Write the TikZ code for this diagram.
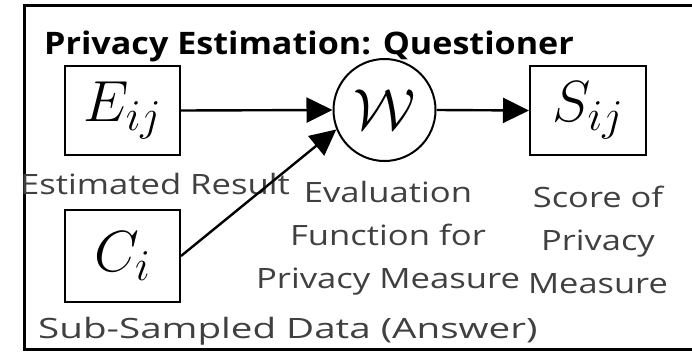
\RequirePackage{fix-cm}
\documentclass[tikz,border=0pt]{standalone}
\usepackage{fontspec}
\setmainfont{Open Sans}
\usetikzlibrary{arrows.meta}
\definecolor{lbl}{RGB}{64,64,64}
\DeclareMathSizes{58}{58}{44}{34}
\newcommand{\stretchx}[2]{\scalebox{#1}[1]{#2}}
\begin{document}
\begin{tikzpicture}[x=1pt,y=-1pt,
  box/.style={draw,line width=2pt,inner sep=0pt,minimum width=115pt},
  mathtxt/.style={font=\fontsize{58}{60}\selectfont},
  lab/.style={text=lbl,font=\fontsize{28}{43}\selectfont,inner sep=0pt},
  conn/.style={line width=2.4pt,-{Triangle[length=26pt,width=25pt]}}]
\clip (0,0) rectangle (692,353);
\draw[line width=3pt] (24,6) rectangle (760,349);
\node[anchor=base west,inner sep=0pt,font=\fontsize{31}{36}\selectfont\bfseries] (title) at (44,55) {\stretchx{1.1}{Privacy Estimation: Questioner}};
\node[box,minimum height=89pt,mathtxt] (E) at (122.5,110.5) {$E_{ij}$};
\node[box,minimum height=92pt,mathtxt] (C) at (122.5,256) {$C_i$};
\node[draw,circle,line width=2pt,minimum size=102pt,inner sep=0pt,mathtxt] (W) at (384.5,110) {$\mathcal{W}$};
\node[box,minimum width=116pt,minimum height=89pt,mathtxt] (S) at (588,110.5) {$S_{ij}$};
\node[lab,anchor=base] (le) at (155,194) {\stretchx{1.237}{Estimated Result}};
\node[lab,anchor=base] (lw) at (388,288) {\stretchx{1.237}{\begin{tabular}[b]{@{}c@{}}Evaluation\\Function for\\Privacy Measure\end{tabular}}};
\node[lab,anchor=base] (ls) at (598,293) {\stretchx{1.23}{\begin{tabular}[b]{@{}c@{}}Score of\\Privacy\\Measure\end{tabular}}};
\node[lab,anchor=base west] (lc) at (38,338) {\stretchx{1.377}{Sub-Sampled Data (Answer)}};
\draw[conn] (E.east) -- (W.west);
\draw[conn] (C.east) -- (W.202);
\draw[conn] (W.east) -- (S.west);
\end{tikzpicture}
\end{document}
